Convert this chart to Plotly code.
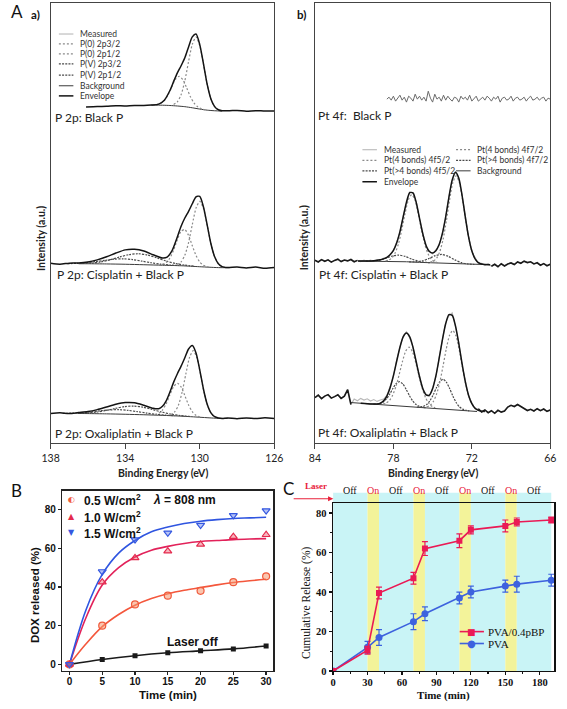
import numpy as np
import plotly.graph_objects as go

W, H = 567, 709

# ======================= Panel A data (XPS) =======================
# intensities are in arbitrary units relative to each spectrum's own baseline
A_P_TICKS = [138, 134, 130, 126]
A_PT_TICKS = [84, 78, 72, 66]

# ---- a) P 2p : Black P
PB_BE = [136.1, 135.5, 135.0, 134.5, 134.0, 133.5, 133.0, 132.6, 132.2, 131.9, 131.6, 131.4, 131.2,
         131.0, 130.8, 130.6, 130.4, 130.2, 130.0, 129.8, 129.6, 129.4, 129.2, 129.0, 128.8, 128.4,
         128.0, 127.5, 127.0, 126.5, 126.0]
PB_ENV = [4.0, 4.6, 4.8, 5.3, 5.2, 5.7, 5.5, 6.0, 7.0, 10.9, 20.7, 29.9, 38.5, 45.7, 53.7, 64.7, 74.8,
          77.7, 67.0, 47.6, 26.9, 12.2, 4.5, 1.3, 0.3, 0.3, 0.6, -0.2, 0.4, 0.0, 0.1]
PB_BG_BE = [132.6, 132.0, 131.6, 131.2, 130.8, 130.4, 130.0, 129.6, 129.2, 128.8]
PB_BG = [6.0, 5.9, 5.6, 5.1, 4.4, 3.3, 2.0, 0.9, 0.3, 0.0]
PB_C1_BE = [131.4, 131.2, 131.0, 130.8, 130.6, 130.4, 130.2, 130.0, 129.8, 129.6, 129.4, 129.2, 129.0, 128.8]
PB_C1 = [6.6, 9.3, 16.5, 30.4, 49.9, 67.3, 74.7, 66.0, 47.4, 26.9, 12.2, 4.5, 1.3, 0.3]
PB_C2_BE = [132.3, 132.1, 131.9, 131.7, 131.5, 131.3, 131.1, 130.9, 130.7, 130.5, 130.3, 130.1, 129.9, 129.7]
PB_C2 = [6.5, 7.8, 10.8, 16.5, 24.6, 32.1, 35.0, 31.4, 23.3, 14.4, 7.9, 4.2, 2.2, 1.3]

# ---- a) P 2p : Cisplatin + Black P
PC_BE = [138.0, 137.5, 137.0, 136.5, 136.0, 135.5, 135.0, 134.5, 134.0, 133.5, 133.0, 132.5, 132.0,
         131.75, 131.5, 131.25, 131.0, 130.8, 130.6, 130.4, 130.2, 130.0, 129.8, 129.6, 129.4, 129.2,
         129.0, 128.8, 128.6, 128.4, 128.0, 127.5, 127.0, 126.5, 126.0]
PC_ENV = [4.5, 3.6, 4.6, 4.7, 5.7, 7.9, 11.0, 14.8, 18.0, 18.6, 16.9, 13.1, 9.8, 10.7, 16.7, 28.5, 41.9,
          50.1, 56.9, 64.5, 71.5, 71.9, 61.3, 43.0, 24.2, 11.0, 3.9, 1.1, 0.3, 0.2, 0.6, -0.3, 0.6, -0.5, 0.3]
PC_BG_BE = [136.5, 136.0, 135.0, 134.0, 133.0, 132.0, 131.0, 130.5, 130.0, 129.5, 129.0, 128.4]
PC_BG = [4.0, 4.0, 3.8, 3.5, 3.0, 2.5, 2.0, 1.5, 1.0, 0.5, 0.1, 0.0]
PC_C1_BE = [131.2, 131.0, 130.8, 130.6, 130.4, 130.2, 130.0, 129.8, 129.6, 129.4, 129.2, 129.0, 128.8, 128.6]
PC_C1 = [3.2, 5.9, 12.6, 25.4, 43.4, 60.1, 67.0, 59.7, 42.6, 24.2, 11.0, 3.9, 1.1, 0.3]
PC_C2_BE = [132.0, 131.8, 131.6, 131.4, 131.2, 131.0, 130.8, 130.6, 130.4, 130.2, 130.0, 129.8, 129.6, 129.4]
PC_C2 = [3.4, 5.3, 9.8, 17.9, 28.3, 36.7, 38.5, 32.6, 22.2, 12.4, 5.8, 2.4, 1.0, 0.4]
PC_C3_BE = [136.3, 135.8, 135.3, 134.8, 134.3, 133.8, 133.3, 132.8, 132.3, 131.8, 131.3, 130.8, 130.3]
PC_C3 = [4.3, 4.7, 5.9, 8.0, 10.8, 13.2, 14.1, 12.8, 9.9, 6.7, 4.3, 2.6, 1.6]
PC_C4_BE = [137.1, 136.6, 136.1, 135.6, 135.1, 134.6, 134.1, 133.6, 133.1, 132.6, 132.1, 131.6, 131.1]
PC_C4 = [4.1, 4.4, 5.1, 6.1, 7.4, 8.6, 9.0, 8.2, 6.6, 5.0, 3.6, 2.7, 2.2]

# ---- a) P 2p : Oxaliplatin + Black P
PO_BE = [138.0, 137.5, 137.0, 136.5, 136.0, 135.5, 135.0, 134.5, 134.0, 133.5, 133.0, 132.5, 132.2,
         132.0, 131.8, 131.6, 131.4, 131.2, 131.0, 130.8, 130.6, 130.4, 130.2, 130.0, 129.8, 129.6,
         129.4, 129.2, 129.0, 128.8, 128.5, 128.0, 127.5, 127.0, 126.5, 126.0]
PO_ENV = [5.0, 5.6, 4.9, 5.9, 6.9, 8.9, 11.6, 14.3, 16.0, 15.8, 13.3, 10.2, 9.8, 12.2, 17.7, 26.6, 36.6,
          45.1, 52.7, 61.2, 70.0, 73.5, 66.1, 49.0, 29.4, 14.2, 5.6, 1.8, 0.5, 0.0, 0.4, -0.3, 0.5, 0.0,
          0.6, 0.0]
PO_BG_BE = [136.5, 136.0, 135.0, 134.0, 133.0, 132.0, 131.0, 130.0, 129.5, 129.0, 128.5]
PO_BG = [5.0, 4.9, 4.6, 4.2, 3.7, 3.1, 2.3, 1.2, 0.6, 0.1, 0.0]
PO_C1_BE = [131.55, 131.35, 131.15, 130.95, 130.75, 130.55, 130.35, 130.15, 129.95, 129.75, 129.55, 129.35, 129.15]
PO_C1 = [3.9, 6.5, 13.1, 26.2, 44.4, 61.3, 68.4, 61.0, 43.6, 25.0, 11.5, 4.4, 1.3]
PO_C2_BE = [132.4, 132.2, 132.0, 131.8, 131.6, 131.4, 131.2, 131.0, 130.8, 130.6, 130.4, 130.2, 130.0]
PO_C2 = [4.0, 5.1, 8.5, 14.8, 23.8, 32.1, 35.5, 31.8, 23.0, 13.6, 6.8, 3.1, 1.6]
PO_C3_BE = [136.55, 136.05, 135.55, 135.05, 134.55, 134.05, 133.55, 133.05, 132.55, 132.05, 131.55, 131.05, 130.55]
PO_C3 = [5.1, 5.55, 6.4, 8.0, 10.0, 11.9, 12.45, 11.4, 9.0, 6.5, 4.4, 2.95, 2.0]
PO_C4_BE = [137.35, 136.85, 136.35, 135.85, 135.35, 134.85, 134.35, 133.85, 133.35, 132.85, 132.35, 131.85, 131.35]
PO_C4 = [5.1, 5.34, 5.76, 6.65, 7.7, 8.6, 8.8, 8.16, 6.85, 5.4, 4.16, 3.34, 2.7]

# ---- b) Pt 4f : Black P (noise only, 78.5 -> 66 eV)
TB_MEAS = [0, 2, -1, 3, -2, 1, 4, -1, 2, -3, 3, 1, -2, 5, 0, 3, -1, 2, -2, 8, 1, -3, 5, 0, 2, -2, 4,
           -1, 3, 0, -2, 2, 1, -3, 3, 0, 2, -1, 4, -2, 1, 3, -2, 0, 2, -1, 3, 1, -2, 2, 0, 3, -3, 1, 2,
           -1, 0, 3, -2, 1, 2, -1, 0, 2, -2, 1, 3, -1, 0, 2, -1, 1, 2, -2, 1, 0]

# ---- b) Pt 4f : Cisplatin + Black P (measured 84 -> 66 eV, 0.25 eV step)
TC_MEAS = [4.5, 2.8, 5.2, 3.5, 4.9, 2.6, 4.4, 5.6, 3.2, 4.8, 3.9, 5.3, 3.0, 4.4,
           3.2, 4.6, 3.5, 4.8, 3.6, 5.2, 4.5, 6.8, 7.0, 11.0, 13.8, 22.8, 32.5, 49.2, 62.3, 73.5,
           71.8, 63.4, 45.9, 31.8, 18.6, 14.1, 11.0, 15.0, 19.5, 32.4, 47.4, 69.1, 84.7, 94.0,
           86.6, 71.1, 47.3, 29.0, 13.2, 6.8, 1.4, 1.5, -0.8, 1.2, -1.5, 0.5, -2.0, 1.0, -1.2,
           0.8, 1.8, 0.2, 2.8, 1.5, 3.6, 2.2, 3.0, 0.8, 2.0, -0.5, 1.2, -1.0, 0.5]
TC_ENV_BE = [80.7, 80.0, 79.5, 79.0, 78.75, 78.5, 78.25, 78.0, 77.75, 77.5, 77.25, 77.0, 76.75, 76.5,
             76.25, 76.0, 75.75, 75.5, 75.25, 75.0, 74.75, 74.5, 74.25, 74.0, 73.75, 73.5, 73.25, 73.0,
             72.75, 72.5, 72.25, 72.0, 71.75, 71.5, 71.25, 71.0, 70.6]
TC_ENV = [3.7, 3.69, 3.96, 4.96, 5.97, 7.53, 10.07, 14.44, 21.89, 33.35, 48.31, 63.11, 72.63, 72.53,
          62.57, 46.82, 31.07, 19.47, 13.29, 11.8, 14.12, 20.39, 31.58, 48.29, 68.25, 85.56, 93.25, 87.5,
          70.28, 48.22, 28.14, 14.04, 5.96, 2.17, 0.68, 0.16, 0.0]
TC_BG_BE = [80.7, 78.0, 77.0, 76.0, 75.0, 74.0, 73.0, 72.0, 71.0, 70.6]
TC_BG = [3.7, 3.4, 3.0, 2.4, 1.9, 1.2, 0.6, 0.2, 0.0, 0.0]
TC_C1_BE = [78.6, 78.35, 78.1, 77.85, 77.6, 77.35, 77.1, 76.85, 76.6, 76.35, 76.1, 75.85, 75.6, 75.35, 75.1, 74.85, 74.6]
TC_C1 = [3.84, 4.73, 7.08, 12.24, 21.74, 35.84, 52.14, 65.61, 70.76, 65.31, 51.56, 35.03, 20.7, 10.98, 5.62, 3.09, 1.99]
TC_C2_BE = [75.2, 74.95, 74.7, 74.45, 74.2, 73.95, 73.7, 73.45, 73.2, 72.95, 72.7, 72.45, 72.2, 71.95, 71.7, 71.45, 71.2]
TC_C2 = [2.5, 3.56, 6.49, 13.25, 25.54, 43.97, 65.32, 82.97, 89.72, 82.68, 64.78, 43.18, 24.48, 11.9, 4.94, 1.79, 0.54]
TC_C3_BE = [80.1, 79.6, 79.1, 78.6, 78.1, 77.6, 77.1, 76.6, 76.1, 75.6, 75.1]
TC_C3 = [3.7, 3.89, 4.64, 6.45, 8.76, 9.74, 8.39, 5.74, 3.58, 2.49, 2.0]
TC_C4_BE = [76.8, 76.3, 75.8, 75.3, 74.8, 74.3, 73.8, 73.3, 72.8, 72.3, 71.8]
TC_C4 = [2.95, 2.98, 3.85, 6.17, 9.17, 10.4, 8.49, 4.9, 2.07, 0.72, 0.23]

# ---- b) Pt 4f : Oxaliplatin + Black P (measured 84 -> 66 eV, 0.25 eV step)
TO_MEAS = [14, 16.5, 13, 15.5, 17, 13.5, 15, 16.8, 13.2, 15.5, 22, 7,
           12.5, 10.8, 13.2, 11.5, 12.8, 10.5, 12.0, 10.2, 11.5, 12.5, 16.2, 25.5, 35.0, 52.0, 63.5,
           76.5, 80.5, 74.0, 65.5, 48.8, 36.2, 22.0, 17.8, 15.2, 24.0, 34.8, 54.5, 71.2, 89.5, 96.5,
           99.5, 85.0, 69.8, 47.2, 31.0, 15.5, 8.8, 2.5, 2.8, -0.5, 1.5, -1.2, 0.8, -1.8, 1.2, -0.6,
           0.5, 4.5, 6.2, 5.0, 7.0, 4.8, 2.5, 1.0, 2.2, 0.5, 2.8, 0.8, 2.5, 0.2, 1.5]
TO_ENV_BE = [80.5, 80.0, 79.5, 79.25, 79.0, 78.75, 78.5, 78.25, 78.0, 77.75, 77.5, 77.25, 77.0, 76.75,
             76.5, 76.25, 76.0, 75.75, 75.5, 75.25, 75.0, 74.75, 74.5, 74.25, 74.0, 73.75, 73.5, 73.25,
             73.0, 72.75, 72.5, 72.25, 72.0, 71.75, 71.5, 71.25, 71.0]
TO_ENV = [8.31, 7.85, 7.52, 7.65, 8.44, 10.71, 15.55, 24.01, 36.18, 50.64, 64.81, 75.18, 79.04, 75.21,
          64.6, 49.9, 35.0, 23.13, 16.63, 16.43, 22.92, 35.9, 53.46, 72.37, 88.44, 97.61, 96.97, 86.4,
          68.65, 48.42, 30.1, 16.47, 7.91, 3.24, 1.1, 0.35, 0.1]
TO_BG_BE = [81.24, 76.0, 71.6]
TO_BG = [9.0, 4.11, 0.0]
TO_C1_BE = [78.8, 78.55, 78.3, 78.05, 77.8, 77.55, 77.3, 77.05, 76.8, 76.55, 76.3, 76.05, 75.8, 75.55, 75.3, 75.05, 74.8]
TO_C1 = [7.42, 8.49, 11.16, 16.62, 25.49, 37.66, 50.72, 61.09, 64.86, 60.62, 49.79, 36.26, 23.62, 14.29, 8.36, 5.22, 3.69]
TO_C2_BE = [75.46, 75.21, 74.96, 74.71, 74.46, 74.21, 73.96, 73.71, 73.46, 73.21, 72.96, 72.71, 72.46, 72.21, 71.96, 71.71, 71.46]
TO_C2 = [4.61, 5.97, 9.74, 17.0, 28.97, 45.24, 62.8, 76.57, 81.74, 76.1, 61.87, 43.84, 27.1, 14.67, 6.94, 2.7, 1.0]
TO_C3_BE = [79.53, 79.28, 79.03, 78.78, 78.53, 78.28, 78.03, 77.78, 77.53, 77.28, 77.03, 76.78, 76.53, 76.28, 76.03, 75.78, 75.53]
TO_C3 = [7.51, 7.53, 8.04, 9.55, 12.64, 17.54, 23.41, 28.27, 30.04, 27.81, 22.47, 16.14, 10.78, 7.21, 5.24, 4.26, 3.77]
TO_C4_BE = [76.2, 75.95, 75.7, 75.45, 75.2, 74.95, 74.7, 74.45, 74.2, 73.95, 73.7, 73.45, 73.2, 72.95, 72.7, 72.45, 72.2]
TO_C4 = [4.42, 4.5, 5.18, 7.08, 10.92, 16.93, 24.2, 30.16, 32.43, 29.69, 23.26, 15.53, 9.05, 4.74, 2.38, 1.23, 0.68]

A_LEGEND_P = ["Measured", "P(0) 2p3/2", "P(0) 2p1/2", "P(V) 2p3/2", "P(V) 2p1/2", "Background", "Envelope"]
A_LEGEND_PT_L = ["Measured", "Pt(4 bonds) 4f5/2", "Pt(>4 bonds) 4f5/2", "Envelope"]
A_LEGEND_PT_R = ["Pt(4 bonds) 4f7/2", "Pt(>4 bonds) 4f7/2", "Background"]

# ======================= Panel B data =======================
B_TIME = [0, 5, 10, 15, 20, 25, 30]
B_05 = [0, 20, 31, 35.5, 38, 42.5, 45.5]
B_10 = [0, 42.5, 55, 58.5, 62, 66, 67]
B_15 = [0, 48, 64.5, 68, 72, 77, 79.5]
B_OFF = [0, 2.5, 4.5, 6, 7, 8, 9.5]
B_FIT_T = [0, 2.5, 5, 7.5, 10, 12.5, 15, 17.5, 20, 22.5, 25, 27.5, 30]
B_FIT_05 = [0, 10.5, 19.5, 25.8, 30.6, 34.0, 36.5, 38.3, 39.7, 41.1, 42.3, 43.2, 44.0]
B_FIT_10 = [0, 24, 41, 50, 55.5, 59, 61, 62.5, 63.5, 64, 64.5, 64.8, 65]
B_FIT_15 = [0, 28, 46.5, 57.5, 64, 68.5, 71, 72.8, 74, 74.8, 75.4, 75.7, 76]
B_LABELS = ["0.5 W/cm<sup>2</sup>", "1.0 W/cm<sup>2</sup>", "1.5 W/cm<sup>2</sup>"]

# ======================= Panel C data =======================
C_TIME = [0, 30, 40, 70, 80, 110, 120, 150, 160, 190]
C_BP = [0, 10.5, 39.5, 47, 62, 66, 71.5, 73.5, 75.5, 76.5]
C_BP_ERR = [0, 2, 3, 3, 3.5, 3.5, 2, 3, 2, 1.5]
C_PVA = [0, 12, 17, 25, 29, 37, 40, 43, 44, 46]
C_PVA_ERR = [0, 3, 4, 4, 3.5, 3, 3, 3, 4, 3]
LASER_EDGES = [0, 30, 40, 70, 80, 110, 120, 150, 160, 190]
LASER_STATES = ["Off", "On", "Off", "On", "Off", "On", "Off", "On", "Off"]

# ======================= helpers / styles =======================
def px(v):
    return v / W

def py(v):
    return 1 - v / H

SANS_A = "Lato, 'Open Sans', sans-serif"
SANS_B = "'Liberation Sans', Arial, sans-serif"
SERIF_C = "'Liberation Serif', 'Times New Roman', serif"

ST = {
    "meas": dict(color="#b8b8b8", width=1.1, dash="solid"),
    "p0": dict(color="#8a8a8a", width=1.2, dash="2px,2px"),
    "pv": dict(color="#4a4a4a", width=1.2, dash="2px,1.2px"),
    "bg": dict(color="#3a3a3a", width=1.0, dash="solid"),
    "env": dict(color="#141414", width=1.5, dash="solid"),
}

fig = go.Figure()

def add_line(xa, ya, x, y, off, style, shape="spline"):
    ln = dict(style)
    ln["shape"] = shape
    if shape == "spline":
        ln["smoothing"] = 0.7
    fig.add_trace(go.Scatter(x=list(x), y=[None if v is None else v + off for v in y], mode="lines",
                             line=ln, xaxis=xa, yaxis=ya, showlegend=False, hoverinfo="skip"))

# stacking offsets (layout)
OFF_L = [335, 177, 25]
OFF_R = [347, 180, 32]

# ---- left XPS panel
add_line("x", "y", PB_BG_BE, PB_BG, OFF_L[0], ST["bg"])
add_line("x", "y", PB_C1_BE, PB_C1, OFF_L[0], ST["p0"])
add_line("x", "y", PB_C2_BE, PB_C2, OFF_L[0], ST["p0"])
add_line("x", "y", PB_BE, PB_ENV, OFF_L[0], ST["env"])

for be, env, bgx, bg, c1x, c1, c2x, c2, c3x, c3, c4x, c4, off in [
        (PC_BE, PC_ENV, PC_BG_BE, PC_BG, PC_C1_BE, PC_C1, PC_C2_BE, PC_C2, PC_C3_BE, PC_C3, PC_C4_BE, PC_C4, OFF_L[1]),
        (PO_BE, PO_ENV, PO_BG_BE, PO_BG, PO_C1_BE, PO_C1, PO_C2_BE, PO_C2, PO_C3_BE, PO_C3, PO_C4_BE, PO_C4, OFF_L[2])]:
    add_line("x", "y", bgx, bg, off, ST["bg"])
    add_line("x", "y", c3x, c3, off, ST["pv"])
    add_line("x", "y", c4x, c4, off, ST["pv"])
    add_line("x", "y", c1x, c1, off, ST["p0"])
    add_line("x", "y", c2x, c2, off, ST["p0"])
    add_line("x", "y", be, env, off, ST["env"])

# ---- right XPS panel
tb_be = np.linspace(78.5, 66.0, len(TB_MEAS))
add_line("x2", "y2", tb_be, TB_MEAS, OFF_R[0], dict(color="#6a6a6a", width=1.0, dash="solid"), shape="linear")

for meas, win, envx, env, bgx, bg, c1x, c1, c2x, c2, c3x, c3, c4x, c4, off in [
        (TC_MEAS, (80.7, 70.6), TC_ENV_BE, TC_ENV, TC_BG_BE, TC_BG, TC_C1_BE, TC_C1, TC_C2_BE, TC_C2,
         TC_C3_BE, TC_C3, TC_C4_BE, TC_C4, OFF_R[1]),
        (TO_MEAS, (81.24, 71.5), TO_ENV_BE, TO_ENV, TO_BG_BE, TO_BG, TO_C1_BE, TO_C1, TO_C2_BE, TO_C2,
         TO_C3_BE, TO_C3, TO_C4_BE, TO_C4, OFF_R[2])]:
    mbe = np.linspace(84.0, 66.0, len(meas))
    add_line("x2", "y2", mbe, meas, off, ST["meas"], shape="linear")
    add_line("x2", "y2", bgx, bg, off, ST["bg"], shape="linear")
    add_line("x2", "y2", c3x, c3, off, ST["pv"])
    add_line("x2", "y2", c4x, c4, off, ST["pv"])
    add_line("x2", "y2", c1x, c1, off, ST["p0"])
    add_line("x2", "y2", c2x, c2, off, ST["p0"])
    add_line("x2", "y2", envx, env, off, ST["env"])
    outside = [v if (b >= win[0] - 0.01 or b <= win[1] + 0.01) else None for b, v in zip(mbe, meas)]
    add_line("x2", "y2", mbe, outside, off, dict(color="#1a1a1a", width=1.6, dash="solid"), shape="linear")

# ---- Panel B
fig.add_trace(go.Scatter(x=B_FIT_T, y=B_FIT_05, mode="lines", line=dict(color="#f4573c", width=1.6, shape="spline"),
                         xaxis="x3", yaxis="y3", showlegend=False))
fig.add_trace(go.Scatter(x=B_FIT_T, y=B_FIT_10, mode="lines", line=dict(color="#e2225a", width=1.6, shape="spline"),
                         xaxis="x3", yaxis="y3", showlegend=False))
fig.add_trace(go.Scatter(x=B_FIT_T, y=B_FIT_15, mode="lines", line=dict(color="#2f55e0", width=1.6, shape="spline"),
                         xaxis="x3", yaxis="y3", showlegend=False))
fig.add_trace(go.Scatter(x=B_TIME, y=B_OFF, mode="lines+markers",
                         line=dict(color="#1a1a1a", width=1.6, shape="spline"),
                         marker=dict(symbol="square", size=5, color="#1a1a1a"),
                         xaxis="x3", yaxis="y3", showlegend=False))
fig.add_trace(go.Scatter(x=B_TIME, y=B_05, mode="markers",
                         marker=dict(symbol="circle", size=7, color="rgba(246,150,110,0.55)",
                                     line=dict(color="#f05a3c", width=1.2)),
                         xaxis="x3", yaxis="y3", showlegend=False))
fig.add_trace(go.Scatter(x=B_TIME, y=B_10, mode="markers",
                         marker=dict(symbol="triangle-up", size=7, color="rgba(240,90,110,0.45)",
                                     line=dict(color="#e42a4e", width=1.2)),
                         xaxis="x3", yaxis="y3", showlegend=False))
fig.add_trace(go.Scatter(x=B_TIME, y=B_15, mode="markers",
                         marker=dict(symbol="triangle-down", size=7, color="rgba(90,120,235,0.45)",
                                     line=dict(color="#3558e0", width=1.2)),
                         xaxis="x3", yaxis="y3", showlegend=False))

# ---- Panel C
C_RED = "#ea1a55"
C_BLUE = "#3d62de"
fig.add_trace(go.Scatter(x=C_TIME, y=C_PVA, mode="lines+markers",
                         line=dict(color=C_BLUE, width=1.6),
                         marker=dict(symbol="circle", size=7, color=C_BLUE),
                         error_y=dict(type="data", array=C_PVA_ERR, color=C_BLUE, thickness=1.2, width=3),
                         xaxis="x4", yaxis="y4", showlegend=False))
fig.add_trace(go.Scatter(x=C_TIME, y=C_BP, mode="lines+markers",
                         line=dict(color=C_RED, width=1.6),
                         marker=dict(symbol="square", size=6, color=C_RED),
                         error_y=dict(type="data", array=C_BP_ERR, color=C_RED, thickness=1.2, width=3),
                         xaxis="x4", yaxis="y4", showlegend=False))

shapes = []
annotations = []

# C laser background stripes (plot area + header band)
for i, st in enumerate(LASER_STATES):
    shapes.append(dict(type="rect", xref="x4", yref="paper", x0=LASER_EDGES[i], x1=LASER_EDGES[i + 1],
                       y0=py(676.7), y1=py(497), fillcolor="#f3f39a" if st == "On" else "#c9f4f6",
                       line=dict(width=0), layer="below"))
    annotations.append(dict(x=(LASER_EDGES[i] + LASER_EDGES[i + 1]) / 2, y=py(502), xref="x4", yref="paper",
                            text=st, showarrow=False,
                            font=dict(family=SERIF_C, size=10, color="#e8203a" if st == "On" else "#111")))
annotations.append(dict(x=px(317), y=py(497), xref="paper", yref="paper", text="<b>Laser</b>",
                        showarrow=False, font=dict(family=SERIF_C, size=9, color="#e8203a")))
# arrow under the "Laser" label
shapes.append(dict(type="line", xref="paper", yref="paper", x0=px(294), x1=px(331), y0=py(503), y1=py(503),
                   line=dict(color="#e8203a", width=1.1)))
shapes.append(dict(type="path", xref="paper", yref="paper",
                   path="M %f %f L %f %f L %f %f Z" % (px(335), py(503), px(329.5), py(500.5), px(329.5), py(505.5)),
                   fillcolor="#e8203a", line=dict(width=0)))

# ---- A legends (drawn as text + line samples)
A_P_STYLES = ["meas", "p0", "p0", "pv", "pv", "bg", "env"]
A_P_ROWS = [34.3, 44.3, 54.3, 64.5, 75.7, 86.5, 96.7]
for lab, sty, yy in zip(A_LEGEND_P, A_P_STYLES, A_P_ROWS):
    s = ST[sty]
    shapes.append(dict(type="line", xref="paper", yref="paper", x0=px(51.5), x1=px(66.5), y0=py(yy), y1=py(yy),
                       line=dict(color=s["color"], width=s["width"], dash=s["dash"])))
    annotations.append(dict(x=px(71.5), y=py(yy), xref="paper", yref="paper", text=lab, showarrow=False,
                            xanchor="left", yanchor="middle", font=dict(family=SANS_A, size=8.5, color="#333")))

for labs, stys, rows, x0, x1, xt in [
        (A_LEGEND_PT_L, ["meas", "p0", "pv", "env"], [151, 161.7, 172.3, 183.3], 365, 380, 385),
        (A_LEGEND_PT_R, ["p0", "pv", "bg"], [151, 161.7, 172.3], 461.7, 476.7, 481.7)]:
    for lab, sty, yy in zip(labs, stys, rows):
        s = ST[sty]
        shapes.append(dict(type="line", xref="paper", yref="paper", x0=px(x0), x1=px(x1), y0=py(yy), y1=py(yy),
                           line=dict(color=s["color"], width=s["width"], dash=s["dash"])))
        annotations.append(dict(x=px(xt), y=py(yy), xref="paper", yref="paper", text=lab, showarrow=False,
                                xanchor="left", yanchor="middle", font=dict(family=SANS_A, size=8.5, color="#333")))

# ---- A spectrum labels
for txt, xx, yy in [("P 2p: Black P", 45, 118), ("P 2p: Cisplatin + Black P", 47, 277),
                    ("P 2p: Oxaliplatin + Black P", 45, 437), ("Pt 4f:  Black P", 317, 116),
                    ("Pt 4f: Cisplatin + Black P", 318, 277), ("Pt 4f: Oxaliplatin + Black P", 317, 436)]:
    annotations.append(dict(x=px(xx), y=py(yy), xref="paper", yref="paper", text=txt, showarrow=False,
                            xanchor="left", yanchor="middle", font=dict(family=SANS_A, size=12, color="#222")))

# ---- axis titles
for txt, xx, yy, ang, fnt in [
        ("Binding Energy (eV)", 159, 477, 0, dict(family=SANS_A, size=10.5, color="#222", weight="bold")),
        ("Binding Energy (eV)", 438, 477, 0, dict(family=SANS_A, size=10.5, color="#222", weight="bold")),
        ("Intensity (a.u.)", 33, 240, -90, dict(family=SANS_A, size=10.5, color="#222", weight="bold")),
        ("Intensity (a.u.)", 305, 240, -90, dict(family=SANS_A, size=10.5, color="#222", weight="bold")),
        ("Time (min)", 164, 701, 0, dict(family=SANS_B, size=11.5, color="#111", weight="bold")),
        ("DOX released (%)", 27, 600, -90, dict(family=SANS_B, size=11.5, color="#111", weight="bold")),
        ("Time (min)", 449, 701.5, 0, dict(family=SERIF_C, size=11, color="#111", weight="bold")),
        ("Cumulative Release (%)", 308, 608, -90, dict(family=SERIF_C, size=11.5, color="#111"))]:
    annotations.append(dict(x=px(xx), y=py(yy), xref="paper", yref="paper", text=txt, showarrow=False,
                            textangle=ang, xanchor="center", yanchor="middle", font=fnt))

# ---- panel letters
for txt, xx, yy, fnt in [("A", 8, 12, dict(family=SANS_A, size=17, color="#111")),
                         ("a)", 27, 15, dict(family=SANS_A, size=11.5, color="#111", weight="bold")),
                         ("b)", 302, 15, dict(family=SANS_A, size=11.5, color="#111", weight="bold")),
                         ("B", 8, 495, dict(family=SANS_A, size=17, color="#111")),
                         ("C", 289, 493, dict(family=SANS_A, size=17, color="#111"))]:
    annotations.append(dict(x=px(xx), y=py(yy), xref="paper", yref="paper", text=txt, showarrow=False,
                            xanchor="center", yanchor="middle", font=fnt))

# ---- B legend
B_GLYPHS = [("\u25d0", "#f05a3c"), ("\u25b2", "#e42a4e"), ("\u25bc", "#3558e0")]
for (g, col), lab, yy in zip(B_GLYPHS, B_LABELS, [504, 521, 537.5]):
    annotations.append(dict(x=px(65), y=py(yy), xref="paper", yref="paper", text=g, showarrow=False,
                            xanchor="center", yanchor="middle", font=dict(family="DejaVu Sans", size=8, color=col)))
    annotations.append(dict(x=px(75.5), y=py(yy), xref="paper", yref="paper", text="<b>" + lab + "</b>",
                            showarrow=False, xanchor="left", yanchor="middle",
                            font=dict(family=SANS_B, size=12, color="#111")))
annotations.append(dict(x=px(147), y=py(504), xref="paper", yref="paper", text="<b><i>\u03bb</i> = 808 nm</b>",
                        showarrow=False, xanchor="left", yanchor="middle", font=dict(family=SANS_B, size=12, color="#111")))
annotations.append(dict(x=px(190), y=py(647), xref="paper", yref="paper", text="<b>Laser off</b>",
                        showarrow=False, xanchor="center", yanchor="middle", font=dict(family=SANS_B, size=12, color="#111")))

# ---- C legend
for lab, col, glyph, yy, gs in [("PVA/0.4pBP", C_RED, "\u25a0", 637, 9), ("PVA", C_BLUE, "\u25cf", 649, 10)]:
    shapes.append(dict(type="line", xref="paper", yref="paper", x0=px(465.5), x1=px(490.5), y0=py(yy), y1=py(yy),
                       line=dict(color=col, width=1.6)))
    annotations.append(dict(x=px(478), y=py(yy), xref="paper", yref="paper", text=glyph, showarrow=False,
                            xanchor="center", yanchor="middle", font=dict(family="DejaVu Sans", size=gs, color=col)))
    annotations.append(dict(x=px(493), y=py(yy), xref="paper", yref="paper", text=lab, showarrow=False,
                            xanchor="left", yanchor="middle", font=dict(family=SERIF_C, size=11, color="#111")))

# ======================= axes =======================
ax_A = dict(showline=True, linecolor="#444", linewidth=1, mirror=True, ticks="outside", ticklen=5,
            tickwidth=1, tickcolor="#444", tickfont=dict(family=SANS_A, size=10.5, color="#222"),
            showgrid=False, zeroline=False, ticklabeloverflow="allow")
ay_A = dict(showline=True, linecolor="#444", linewidth=1, mirror=True, ticks="", showticklabels=False,
            showgrid=False, zeroline=False)
ax_B = dict(showline=True, linecolor="#222", linewidth=1.4, mirror=True, ticks="outside", ticklen=3,
            tickwidth=1.3, tickcolor="#222", tickfont=dict(family=SANS_B, size=10, color="#111", weight="bold"),
            showgrid=False, zeroline=False, ticklabeloverflow="allow")
ax_C = dict(showline=True, linecolor="#111", linewidth=1.4, mirror=True, ticks="outside", ticklen=3,
            tickwidth=1.2, tickcolor="#111", tickfont=dict(family=SERIF_C, size=10.5, color="#111", weight="bold"),
            showgrid=False, zeroline=False, ticklabeloverflow="allow")

fig.update_layout(
    width=W, height=H, margin=dict(l=0, r=0, t=0, b=0),
    paper_bgcolor="white", plot_bgcolor="rgba(0,0,0,0)", showlegend=False,
    xaxis=dict(domain=[px(43), px(274)], range=[138, 126], anchor="y", tickvals=A_P_TICKS, **ax_A),
    yaxis=dict(domain=[py(447), py(3)], range=[0, 444], anchor="x", **ay_A),
    xaxis2=dict(domain=[px(316), px(559)], range=[84, 66], anchor="y2", tickvals=A_PT_TICKS, **ax_A),
    yaxis2=dict(domain=[py(447), py(3)], range=[0, 444], anchor="x2", **ay_A),
    xaxis3=dict(domain=[px(55), px(273)], range=[-1.1, 31.1], anchor="y3", tick0=0, dtick=5,
                ticklabelstandoff=-2, **ax_B),
    yaxis3=dict(domain=[py(676.7), py(495)], range=[-3.4, 89.7], anchor="x3", tick0=0, dtick=20, **ax_B),
    xaxis4=dict(domain=[px(334.7), px(563)], range=[0, 192.5], anchor="y4", tick0=0, dtick=30,
                ticklabelstandoff=-2,
                minor=dict(ticks="outside", ticklen=2, dtick=15, tickcolor="#111"), **ax_C),
    yaxis4=dict(domain=[py(676.7), py(507.5)], range=[0, 85], anchor="x4", tick0=0, dtick=20,
                minor=dict(ticks="outside", ticklen=2, dtick=10, tickcolor="#111"), **ax_C),
    shapes=shapes, annotations=annotations,
)

# remove the browser's default 8px page margin so the 567x709 figure fills the window exactly
fig.write_html("out.html", config={"displayModeBar": False, "staticPlot": True},
               post_script="document.body.style.margin='0';document.body.style.overflow='hidden';")
